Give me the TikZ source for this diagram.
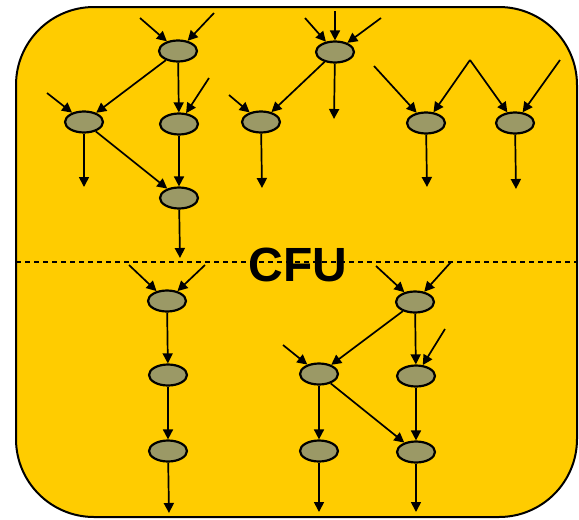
\documentclass[tikz,border=0pt]{standalone}
\usepackage{fontspec}
\setmainfont{Liberation Sans}
\usetikzlibrary{shapes.geometric,arrows.meta}
\definecolor{cfuyellow}{HTML}{FFCC00}
\definecolor{opolive}{HTML}{9B9966}
\tikzset{
  op/.style={ellipse, draw=black, line width=2.2pt, fill=opolive,
    minimum width=38pt, minimum height=21pt, inner sep=0pt},
  edge/.style={line width=1.7pt, -{Triangle[length=10pt,width=10pt]}},
}
\begin{document}
\begin{tikzpicture}[x=1pt,y=-1pt]
\useasboundingbox (0,0) rectangle (579,520);
% the CFU block
\draw[line width=2pt, fill=cfuyellow, rounded corners=78pt] (16,7) rectangle (577,517);
\draw[line width=1.2pt, dash pattern=on 5pt off 4pt] (16,262) -- (577,262);
\node[font=\bfseries\fontsize{48}{48}\selectfont] (cfu) at (298,265) {CFU};

% operation nodes, upper half
\node[op] (a) at (178,51) {};
\node[op] (b) at (84,122) {};
\node[op] (c) at (179,124) {};
\node[op] (d) at (179,198) {};
\node[op] (e) at (335,52) {};
\node[op] (f) at (261,122) {};
\node[op] (g) at (426,123) {};
\node[op] (h) at (515,123) {};
% operation nodes, lower half
\node[op] (i) at (167,301) {};
\node[op] (j) at (168,375) {};
\node[op] (k) at (168,451) {};
\node[op] (l) at (415,302) {};
\node[op] (m) at (319,374) {};
\node[op] (n) at (416,376) {};
\node[op] (o) at (319,451) {};
\node[op] (p) at (416,452) {};

% free ends of inputs and outputs
\coordinate (ain1) at (140,18);
\coordinate (ain2) at (214,13);
\coordinate (bin) at (47,93);
\coordinate (cin) at (209,78);
\coordinate (bout) at (84,187);
\coordinate (dout) at (180,258);
\coordinate (ein1) at (305,18);
\coordinate (ein2) at (335,11);
\coordinate (ein3) at (381,18);
\coordinate (eout) at (334,119);
\coordinate (fin) at (229,95);
\coordinate (fout) at (262,188);
\coordinate (gin) at (374,66);
\coordinate (ghin) at (470,60);
\coordinate (hin) at (560,60);
\coordinate (gout) at (427,187);
\coordinate (hout) at (516,189);
\coordinate (iin1) at (129,265);
\coordinate (iin2) at (205,265);
\coordinate (kout) at (169,513);
\coordinate (lin1) at (376,266);
\coordinate (lin2) at (451,262);
\coordinate (min) at (283,345);
\coordinate (nin) at (445,329);
\coordinate (oout) at (319,512);
\coordinate (pout) at (416,512);

% connectors
\draw[edge] (ain1) -- (a);
\draw[edge] (ain2) -- (a);
\draw[edge] (a) -- (b);
\draw[edge] (a) -- (c);
\draw[edge] (bin) -- (b);
\draw[edge] (cin) -- (c);
\draw[edge] (b) -- (bout);
\draw[edge] (b) -- (d);
\draw[edge] (c) -- (d);
\draw[edge] (d) -- (dout);

\draw[edge] (ein1) -- (e);
\draw[edge] (ein2) -- (e);
\draw[edge] (ein3) -- (e);
\draw[edge] (e) -- (f);
\draw[edge] (e) -- (eout);
\draw[edge] (fin) -- (f);
\draw[edge] (f) -- (fout);

\draw[edge] (gin) -- (g);
\draw[edge] (ghin) -- (g);
\draw[edge] (ghin) -- (h);
\draw[edge] (hin) -- (h);
\draw[edge] (g) -- (gout);
\draw[edge] (h) -- (hout);

\draw[edge] (iin1) -- (i);
\draw[edge] (iin2) -- (i);
\draw[edge] (i) -- (j);
\draw[edge] (j) -- (k);
\draw[edge] (k) -- (kout);

\draw[edge] (lin1) -- (l);
\draw[edge] (lin2) -- (l);
\draw[edge] (l) -- (m);
\draw[edge] (l) -- (n);
\draw[edge] (min) -- (m);
\draw[edge] (nin) -- (n);
\draw[edge] (m) -- (o);
\draw[edge] (m) -- (p);
\draw[edge] (n) -- (p);
\draw[edge] (o) -- (oout);
\draw[edge] (p) -- (pout);
\end{tikzpicture}
\end{document}
